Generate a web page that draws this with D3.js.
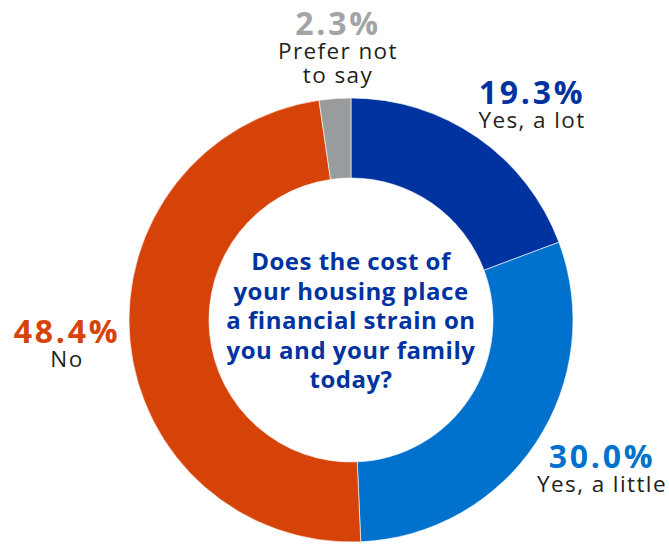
<!DOCTYPE html>
<html>
<head>
<meta charset="utf-8">
<script src="https://cdn.jsdelivr.net/npm/d3@7"></script>
<style>
  html, body { margin: 0; padding: 0; background: #ffffff; }
  svg { display: block; }
</style>
</head>
<body>
<svg id="chart" width="669" height="544"></svg>
<script>
// Survey answers, clockwise from 12 o'clock
const categories = ["Yes, a lot", "Yes, a little", "No", "Prefer not to say"];
const values = [19.3, 30.0, 48.4, 2.3];
const sliceColors = ["#0033a0", "#0072ce", "#d64309", "#9a9b9c"];
const valueColors = ["#0033a0", "#0072ce", "#d64309", "#a3a4a6"];
// Label lines and anchor points (outside the ring)
const labelLines = [["Yes, a lot"], ["Yes, a little"], ["No"], ["Prefer not", "to say"]];
const labelPos = [[532, 104], [602, 468], [67, 343], [338, 35]];
const question = ["Does the cost of", "your housing place", "a financial strain on", "you and your family", "today?"];

const svg = d3.select("#chart");
const cx = 351, cy = 320, outerR = 222, innerR = 142;
const font = "'Open Sans', 'Noto Sans', sans-serif";

const pie = d3.pie().sort(null).value(d => d)(values);
const arc = d3.arc().innerRadius(innerR).outerRadius(outerR);

const g = svg.append("g").attr("transform", `translate(${cx},${cy})`);
g.selectAll("path")
  .data(pie)
  .join("path")
  .attr("d", arc)
  .attr("fill", (d, i) => sliceColors[i])
  .attr("stroke", "#ffffff")
  .attr("stroke-width", 0.6);

// Value and category labels: one text block per slice
categories.forEach((c, i) => {
  const [x, y] = labelPos[i];
  const t = svg.append("text")
    .attr("text-anchor", "middle")
    .attr("font-family", font);
  t.append("tspan")
    .attr("x", x).attr("y", y)
    .attr("font-weight", 700)
    .attr("font-size", 32)
    .attr("letter-spacing", 2.7)
    .attr("fill", valueColors[i])
    .text(d3.format(".1f")(values[i]) + "%");
  labelLines[i].forEach((line, j) => {
    t.append("tspan")
      .attr("x", x).attr("y", y + 24 + j * 24)
      .attr("font-weight", 400)
      .attr("font-size", 22.5)
      .attr("letter-spacing", 1.4)
      .attr("fill", "#231f20")
      .text(line);
  });
});

// Question in the middle of the ring
question.forEach((line, i) => {
  svg.append("text")
    .attr("x", cx).attr("y", 270 + i * 29.5)
    .attr("text-anchor", "middle")
    .attr("font-family", font)
    .attr("font-weight", 700)
    .attr("font-size", 24)
    .attr("letter-spacing", 0.5)
    .attr("fill", "#0033a0")
    .text(line);
});
</script>
</body>
</html>
